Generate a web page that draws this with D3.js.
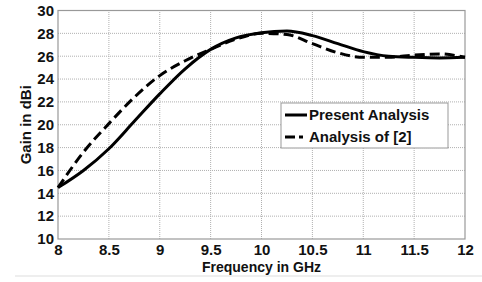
<!DOCTYPE html>
<html>
<head>
<meta charset="utf-8">
<script src="https://cdn.jsdelivr.net/npm/d3@7"></script>
<style>
  html, body { margin: 0; padding: 0; background: #fff; }
  svg { display: block; }
  text { font-family: Arial, "Liberation Sans", sans-serif; font-weight: bold; fill: #111; }
</style>
</head>
<body>
<script>
const freq = [8, 8.25, 8.5, 8.75, 9, 9.25, 9.5, 9.75, 10, 10.25, 10.5, 10.75, 11, 11.25, 11.5, 11.75, 12];
const presentAnalysis = [14.5, 16.0, 17.9, 20.3, 22.7, 24.9, 26.6, 27.6, 28.05, 28.2, 27.8, 27.1, 26.4, 26.0, 25.9, 25.85, 25.9];
const analysisOf2 = [14.5, 17.6, 20.1, 22.4, 24.3, 25.6, 26.6, 27.5, 28.0, 27.9, 27.1, 26.3, 25.9, 25.9, 26.1, 26.2, 25.9];
const xTicks = [8, 8.5, 9, 9.5, 10, 10.5, 11, 11.5, 12];
const xTickLabels = ["8", "8.5", "9", "9.5", "10", "10.5", "11", "11.5", "12"];
const yTicks = [10, 12, 14, 16, 18, 20, 22, 24, 26, 28, 30];
const seriesNames = ["Present Analysis", "Analysis of [2]"];

const W = 482, H = 282;
const m = { left: 58, right: 17, top: 10.5, bottom: 43 };
const svg = d3.select("body").append("svg").attr("width", W).attr("height", H);

const x = d3.scaleLinear().domain([8, 12]).range([m.left, W - m.right]);
const y = d3.scaleLinear().domain([10, 30]).range([H - m.bottom, m.top]);

// grid
const g = svg.append("g");
g.selectAll(".vg").data(xTicks.slice(1, -1)).enter().append("line")
  .attr("x1", d => x(d)).attr("x2", d => x(d))
  .attr("y1", y(10)).attr("y2", y(30))
  .attr("stroke", "#b0b0b0").attr("stroke-width", 1).attr("stroke-dasharray", "1,1");
g.selectAll(".hg").data(yTicks.slice(1, -1)).enter().append("line")
  .attr("y1", d => y(d)).attr("y2", d => y(d))
  .attr("x1", x(8)).attr("x2", x(12))
  .attr("stroke", "#b0b0b0").attr("stroke-width", 1).attr("stroke-dasharray", "1,1");

// frame
svg.append("rect").attr("x", x(8)).attr("y", y(30))
  .attr("width", x(12) - x(8)).attr("height", y(10) - y(30))
  .attr("fill", "none").attr("stroke", "#999").attr("stroke-width", 1.2);

// axes
const xAxis = d3.axisBottom(x).tickValues(xTicks).tickFormat((d, i) => xTickLabels[i]).tickSize(0).tickPadding(5);
const xa = svg.append("g").attr("transform", `translate(0,${y(10)})`).call(xAxis);
xa.select(".domain").remove();
xa.selectAll("text").style("font-size", "15px").attr("fill", "#111");

const yAxis = d3.axisLeft(y).tickValues(yTicks).tickFormat(d3.format("d")).tickSize(0).tickPadding(4);
const ya = svg.append("g").attr("transform", `translate(${x(8)},0)`).call(yAxis);
ya.select(".domain").remove();
ya.selectAll("text").style("font-size", "15px").attr("fill", "#111");

// axis titles
svg.append("text").attr("x", (x(8) + x(12)) / 2).attr("y", 272)
  .attr("text-anchor", "middle").style("font-size", "14px").text("Frequency in GHz");
svg.append("text").attr("transform", `translate(31,${(y(10) + y(30)) / 2}) rotate(-90)`)
  .attr("text-anchor", "middle").style("font-size", "15px").text("Gain in dBi");

// lines
const line = d3.line().x(d => x(d[0])).y(d => y(d[1])).curve(d3.curveMonotoneX);
svg.append("path").datum(freq.map((f, i) => [f, presentAnalysis[i]]))
  .attr("d", line).attr("fill", "none").attr("stroke", "#000").attr("stroke-width", 3);
svg.append("path").datum(freq.map((f, i) => [f, analysisOf2[i]]))
  .attr("d", line).attr("fill", "none").attr("stroke", "#000").attr("stroke-width", 3)
  .attr("stroke-dasharray", "10,5");

// legend
const lg = svg.append("g");
lg.append("rect").attr("x", 281).attr("y", 103).attr("width", 167).attr("height", 45)
  .attr("fill", "#fff").attr("stroke", "#999").attr("stroke-width", 1);
const rows = [{ name: seriesNames[0], dash: null, yy: 115 }, { name: seriesNames[1], dash: "10,4,4,4", yy: 137 }];
rows.forEach(r => {
  const l = lg.append("line").attr("x1", 285).attr("x2", 307).attr("y1", r.yy).attr("y2", r.yy)
    .attr("stroke", "#000").attr("stroke-width", 3);
  if (r.dash) l.attr("stroke-dasharray", r.dash);
  lg.append("text").attr("x", 309).attr("y", r.yy).attr("dy", "0.36em")
    .style("font-size", "15px").text(r.name);
});

// bottom separator
svg.append("line").attr("x1", 15).attr("x2", W).attr("y1", 276).attr("y2", 276)
  .attr("stroke", "#ddd").attr("stroke-width", 1);
</script>
</body>
</html>
